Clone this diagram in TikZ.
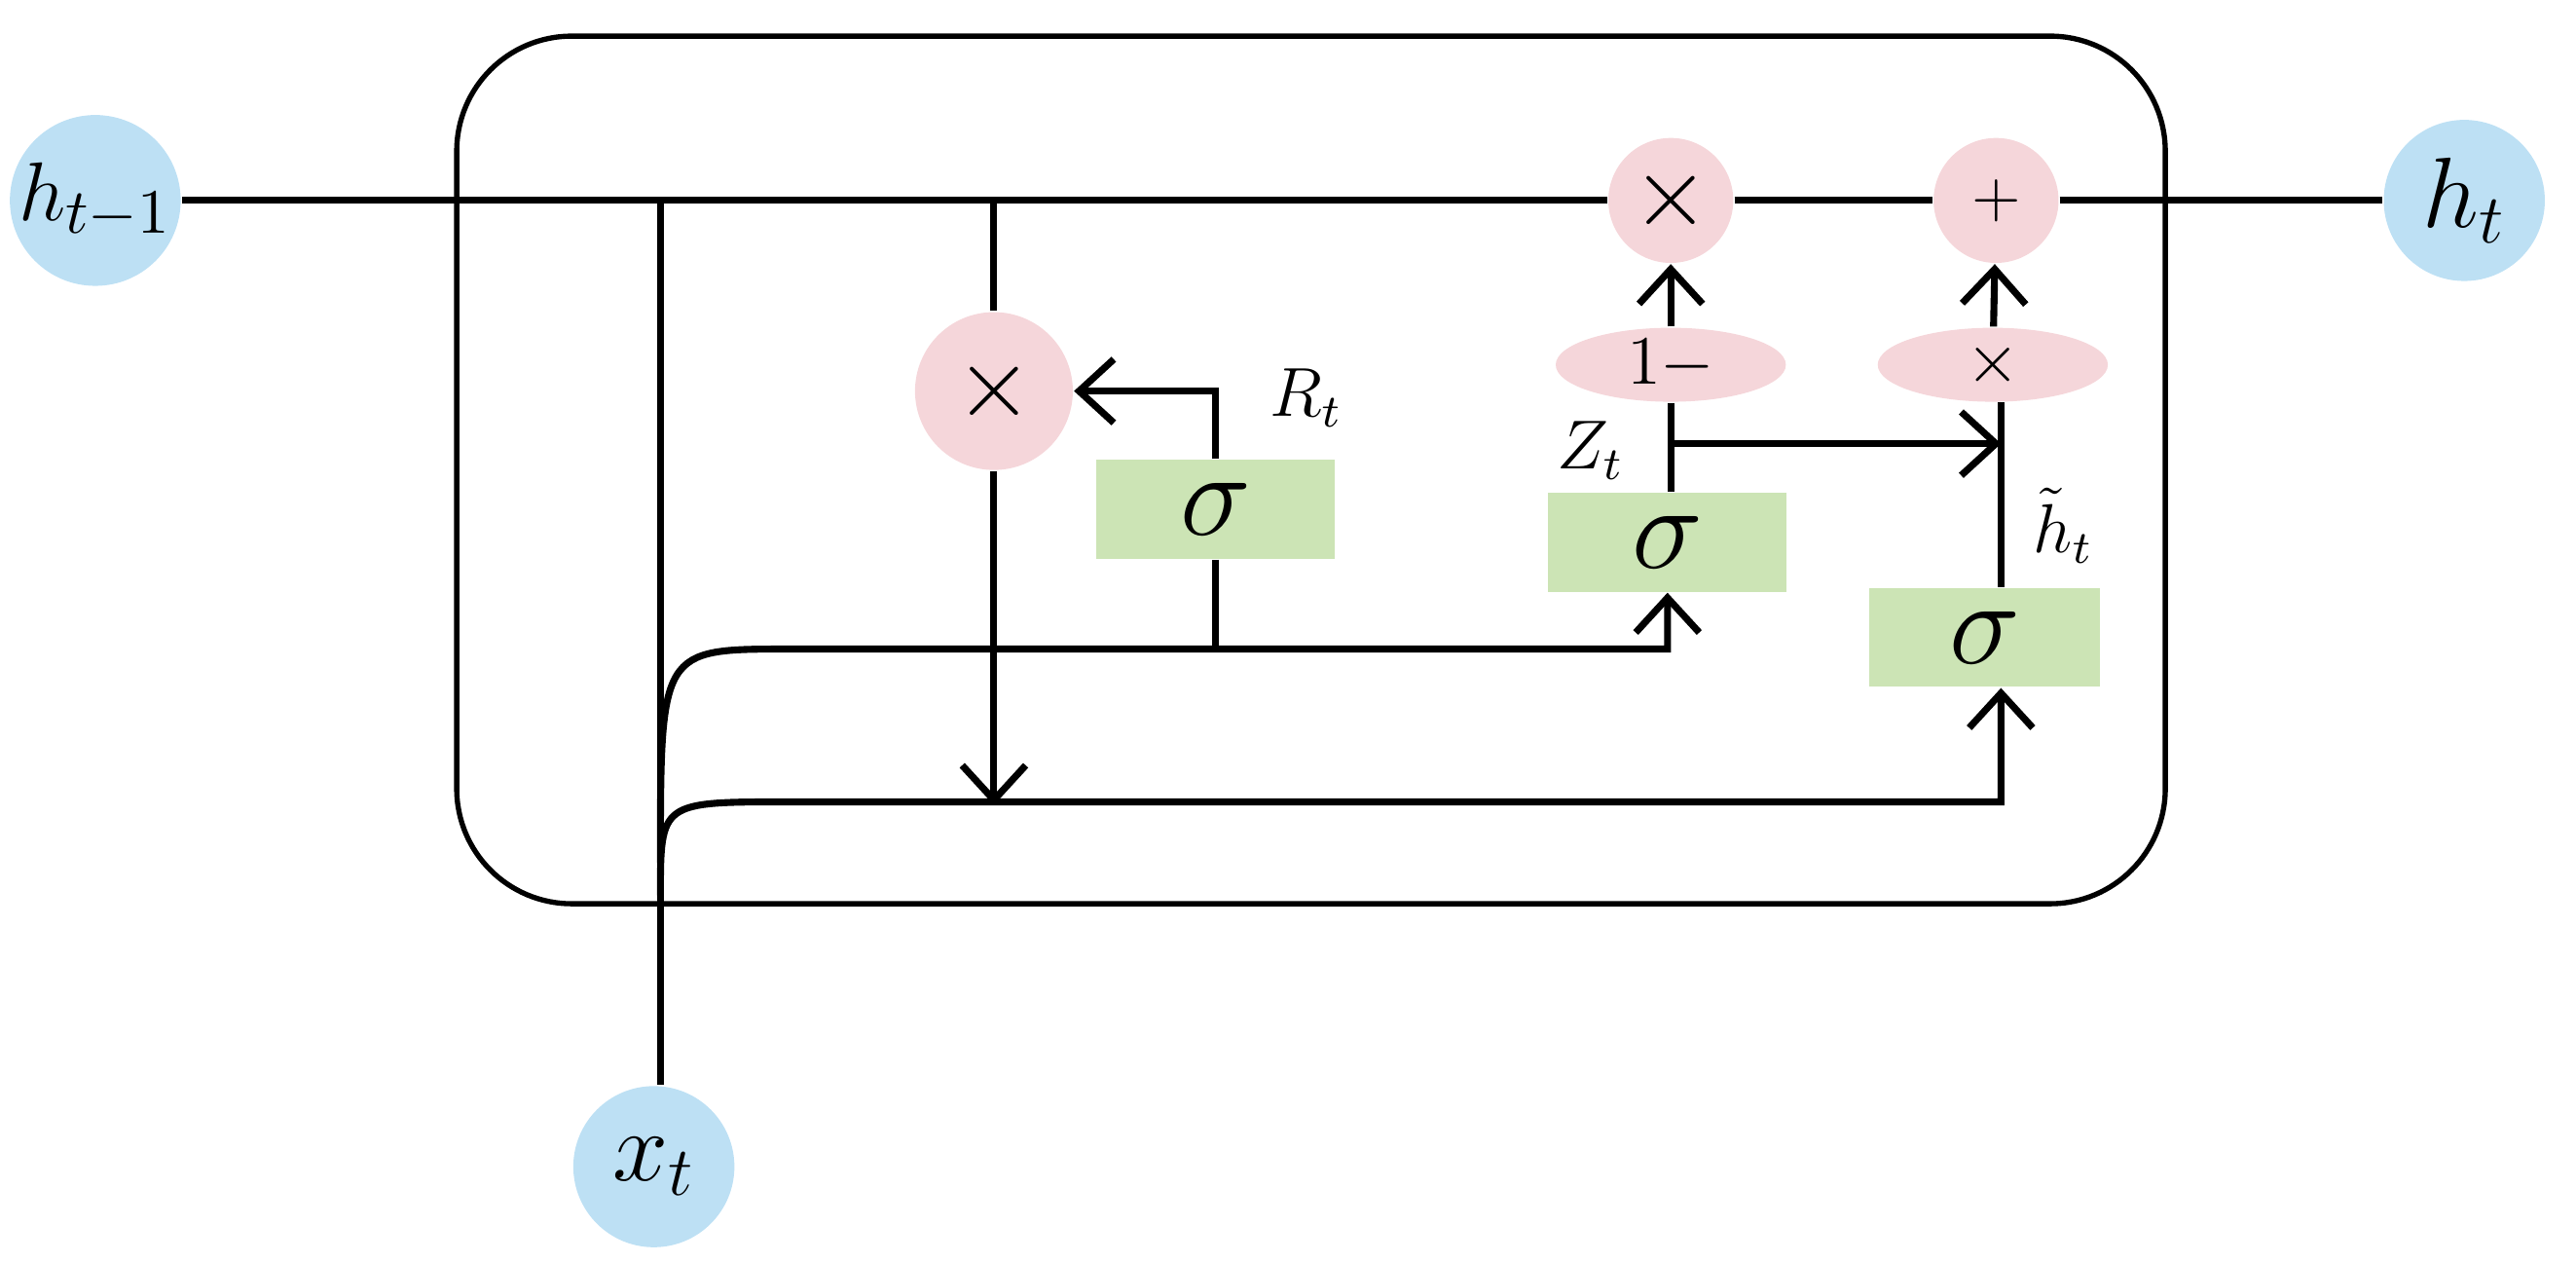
\documentclass[tikz,border=0pt]{standalone}
\usetikzlibrary{arrows.meta,shapes.geometric}
\definecolor{cblue}{RGB}{189,224,244}
\definecolor{cpink}{RGB}{245,214,218}
\definecolor{cgreen}{RGB}{204,228,181}
\begin{document}
\begin{tikzpicture}[x=0.01cm,y=-0.01cm,
  ln/.style={line width=1.2pt},
  ar/.style={ln,-{Straight Barb[length=6pt,width=11pt,line width=1.2pt]}},
  io/.style={circle,fill=cblue,minimum size=0.98cm,inner sep=0pt,font=\fontsize{17}{19}\selectfont},
  op/.style={circle,fill=cpink,minimum size=#1,inner sep=0pt,font=\fontsize{16}{18}\selectfont},
  el/.style={ellipse,fill=cpink,minimum width=1.4cm,minimum height=0.45cm,inner sep=0pt,font=\fontsize{13}{15}\selectfont},
  sg/.style={rectangle,fill=cgreen,minimum width=#1,minimum height=0.6cm,inner sep=0pt,font=\fontsize{22}{24}\selectfont},
  lb/.style={font=\fontsize{12}{14}\selectfont}]
\useasboundingbox (0,0) rectangle (1568,768);
\draw[line width=0.9pt,rounded corners=0.7cm] (278,22) rectangle (1318,550);
\node[io,font=\fontsize{15}{17}\selectfont] (hp) at (58,122) {$h_{t-1}$};
\node[io] (ht) at (1500,122) {$h_t$};
\node[io] (xt) at (398,710) {$x_t$};
\node[op=0.76cm] (m1) at (1017,122) {$\times$};
\node[op=0.76cm,font=\fontsize{11}{13}\selectfont] (p1) at (1215,122) {$+$};
\node[op=0.96cm] (mr) at (605,238) {$\times$};
\node[sg=1.45cm] (sr) at (740,310) {$\sigma$};
\node[sg=1.45cm] (sz) at (1015,330) {$\sigma$};
\node[sg=1.4cm] (sh) at (1208,388) {$\sigma$};
\node[el] (om) at (1017,222) {$1-$};
\node[el] (em) at (1213,222) {$\times$};
\coordinate (j1) at (402,122);
\coordinate (j2) at (605,122);
\coordinate (zb) at (1017,270);
\coordinate (zr) at (1218,270);
\coordinate (rb) at (740,395);
\coordinate (md) at (605,490);
\draw[ln] (hp.east) -- (m1.west);
\draw[ln] (m1.east) -- (p1.west);
\draw[ln] (p1.east) -- (ht.west);
\draw[ln] (xt.north) ++(4,0) -- (j1);
\draw[ln] (j2) -- (mr);
\draw[ar] (mr) -- (md);
\draw[ar] (sr.north) |- (mr);
\draw[ln] (sr.south) -- (rb);
\draw[ar] (402,525) .. controls (402,395) .. (480,395) -| (sz.south);
\draw[ar] (402,545) .. controls (402,488) .. (480,488) -| (sh.south -| 1218,0);
\draw[ln] (sz.north -| zb) -- (om);
\draw[ar] (om) -- (m1);
\draw[ar] (zb) -- (zr);
\draw[ln] (sh.north -| 1218,0) -- (1218,245);
\draw[ar] (em) -- (p1);
\node[lb] at (795,242) {$R_t$};
\node[lb] at (968,274) {$Z_t$};
\node[lb] at (1256,320) {$\tilde{h}_t$};
\end{tikzpicture}
\end{document}
